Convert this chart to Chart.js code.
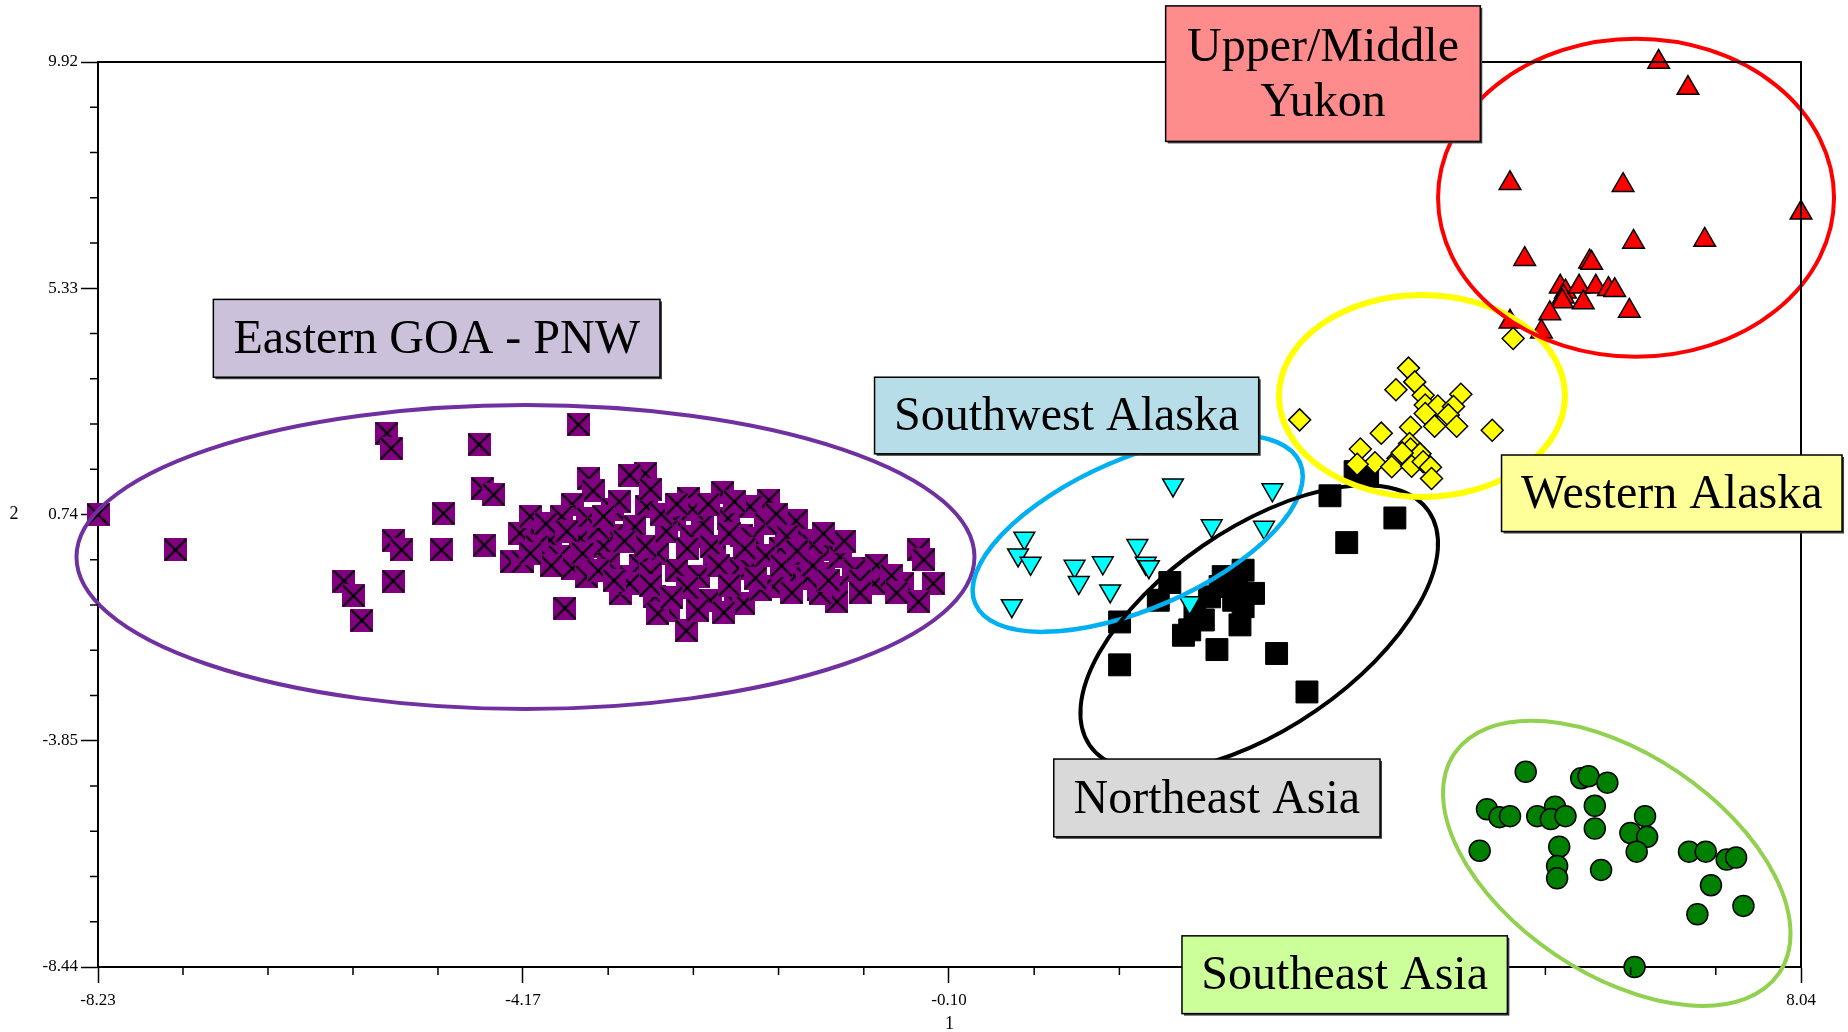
<!DOCTYPE html>
<html><head><meta charset="utf-8">
<script src="https://cdn.jsdelivr.net/npm/chart.js@4/dist/chart.umd.min.js"></script>
<style>html,body{margin:0;padding:0;background:#fff;}canvas{display:block;}</style>
</head><body>
<canvas id="c" width="1848" height="1032"></canvas>
<script>
// ---------- data ----------
const xTickLabels = ['-8.23', '-4.17', '-0.10', '3.97', '8.04'];
const yTickLabels = ['-8.44', '-3.85', '0.74', '5.33', '9.92'];
const xAxisTitle = '1';
const yAxisTitle = '2';

const eastGoaPnw = [
  [-8.23,0.74],[-7.49,0.02],[-5.47,2.39],[-5.43,2.08],[-4.59,2.16],[-4.56,1.27],[-4.45,1.14],
  [-4.93,0.76],[-5.41,0.21],[-5.33,0.02],[-4.95,0.02],[-4.54,0.12],[-5.88,-0.61],[-5.79,-0.91],
  [-5.71,-1.41],[-5.41,-0.61],[-4.28,-0.22],[-4.17,-0.22],[-4.07,0.39],[-3.99,-0.05],[-3.64,2.56],
  [-3.00,1.57],[-3.54,1.47],[-3.50,1.22],[-3.31,0.85],[-3.70,0.95],[-3.80,0.70],[-3.55,0.66],
  [-3.91,0.22],[-3.62,0.26],[-3.31,0.32],[-3.82,-0.11],[-3.70,-0.35],[-3.56,-0.52],[-3.77,-1.16],
  [-3.24,-0.86],[-3.15,-0.52],[-3.15,1.54],[-2.59,1.07],[-2.26,1.18],[-2.99,0.90],[-2.72,0.63],
  [-2.21,0.66],[-3.10,0.49],[-2.56,0.29],[-2.08,0.32],[-2.88,-0.05],[-2.34,-0.12],[-3.05,-0.29],
  [-2.70,-0.39],[-2.11,-0.35],[-3.15,-0.66],[-2.91,-0.93],[-2.78,-1.20],[-2.88,-1.27],[-2.61,-1.62],
  [-2.38,-1.00],[-2.14,-1.06],[-2.49,-0.52],[-2.37,0.09],[-1.82,1.03],[-2.00,0.90],[-1.56,0.61],
  [-1.98,0.26],[-1.71,0.05],[-1.46,0.22],[-1.24,0.02],[-1.14,-0.12],[-1.51,-0.18],[-1.01,-0.35],
  [-2.00,-0.35],[-1.78,-0.72],[-1.57,-0.52],[-1.30,-0.45],[-1.17,-0.75],[-1.17,-1.03],[-2.06,-1.06],
  [-1.35,-0.79],[-1.90,-0.79],[-0.39,0.02],[-0.34,-0.18],[-0.81,-0.45],[-0.54,-0.66],[-0.25,-0.66],
  [-0.39,-1.03],[-1.00,-0.39],[-0.79,-0.29],[-0.81,-0.66],[-1.40,0.12],[-1.33,-0.86],[-4.20,0.36],
  [-4.04,0.09],[-3.40,0.10],[-3.00,0.10],[-2.80,0.40],[-2.45,0.55],[-2.30,-0.30],[-1.85,-0.10],
  [-1.65,0.30],[-2.95,-0.45],[-3.35,-0.25],[-2.60,-0.75],[-2.20,-0.70],[-1.45,-0.55],[-1.85,0.55],
  [-2.55,0.85],[-3.25,1.00],[-2.40,0.95],[-2.85,0.75],
  [-4.10,0.70],[-3.95,0.55],[-3.75,0.40],[-3.45,0.45],[-3.20,0.20],[-3.60,-0.05],[-3.45,-0.40],
  [-3.30,-0.60],[-2.95,-0.70],[-2.75,-0.95],[-2.50,-1.20],[-2.25,-1.25],[-1.95,-0.55],[-1.70,-0.30],
  [-1.60,-0.85],[-1.40,-0.30],[-1.25,-0.60],[-0.95,-0.60],[-0.65,-0.50],[-1.10,0.20],[-1.30,0.35],
  [-1.75,0.75],[-2.15,1.00],[-2.70,0.95],[-2.95,1.25],[-3.40,0.70],[-3.90,-0.30],[-4.10,-0.05],
  [-2.05,0.05],[-2.60,0.05],[-2.20,0.35],[-1.55,0.00],[-0.60,-0.85],[-0.95,-0.85]
];
const southwestAlaska = [
  [2.04,1.34],[2.99,1.24],[2.41,0.51],[2.91,0.48],[0.62,0.26],[0.56,-0.08],[0.68,-0.25],[1.70,0.11],
  [1.78,-0.25],[1.81,-0.32],[1.10,-0.31],[1.37,-0.24],[1.14,-0.64],[1.44,-0.81],[0.50,-1.11],[2.20,-1.05]
];
const northeastAsia = [
  [3.54,1.12],[4.16,0.67],[3.70,0.17],[3.78,1.61],[3.90,1.52],[2.01,-0.64],[1.90,-1.00],[1.53,-1.44],
  [1.53,-2.31],[2.14,-1.71],[2.25,-1.20],[2.46,-2.00],[2.71,-0.39],[2.49,-0.72],[2.81,-0.86],[2.68,-1.50],
  [2.62,-1.00],[2.33,-1.40],[3.03,-2.08],[3.32,-2.86],[2.52,-0.52],[2.71,-1.13],[2.39,-0.93],[2.65,-0.72],
  [2.20,-1.60]
];
const westernAlaska = [
  [3.25,2.66],[5.29,4.31],[4.29,3.71],[4.35,3.43],[4.17,3.27],[4.43,3.16],[4.79,3.18],[4.45,2.96],
  [4.57,2.94],[4.72,2.93],[4.45,2.79],[4.67,2.76],[4.54,2.53],[4.75,2.53],[5.09,2.45],[4.03,2.39],
  [4.31,2.51],[3.83,2.07],[4.30,2.18],[4.31,2.07],[4.40,1.97],[3.97,1.79],[3.80,1.76],[4.19,1.88],
  [4.13,1.71],[4.32,1.72],[4.43,1.81],[4.50,1.70],[4.51,1.47],[4.23,1.99]
];
const upperMiddleYukon = [
  [6.68,9.92],[6.96,9.39],[5.26,7.46],[6.34,7.42],[8.04,6.86],[6.44,6.27],[7.12,6.31],[5.40,5.92],
  [6.02,5.87],[6.04,5.84],[5.74,5.36],[5.79,5.26],[5.77,5.16],[5.76,5.06],[5.92,5.36],[6.08,5.36],
  [6.20,5.31],[6.26,5.29],[5.96,5.04],[6.40,4.87],[5.64,4.82],[5.56,4.45],[5.26,4.65]
];
const southeastAsia = [
  [5.41,-4.48],[5.94,-4.61],[6.01,-4.57],[6.19,-4.70],[5.04,-5.24],[5.16,-5.40],[5.26,-5.38],[5.52,-5.38],
  [5.69,-5.19],[5.65,-5.44],[5.79,-5.38],[6.07,-5.17],[6.07,-5.63],[6.55,-5.38],[6.41,-5.72],[6.57,-5.80],
  [6.47,-6.10],[4.97,-6.08],[5.73,-6.00],[5.71,-6.39],[5.71,-6.64],[6.13,-6.47],[6.97,-6.10],[7.13,-6.10],
  [7.33,-6.26],[7.42,-6.22],[7.18,-6.78],[7.49,-7.20],[7.05,-7.37],[6.45,-8.44]
];

// group annotations (ellipse centre in data units, radii in px, rotation in deg)
const groupEllipses = [
  {cx:-4.146, cy:-0.123, a:449, b:152, rot:0,     color:'#7030A0', width:4},
  {cx: 1.703, cy: 0.358, a:177, b:75,  rot:-23.5, color:'#00B0F0', width:4.5},
  {cx: 2.864, cy:-1.569, a:206, b:100, rot:-34.6, color:'#000000', width:4},
  {cx: 4.419, cy: 3.144, a:143, b:101, rot:0,     color:'#FFFF00', width:6},
  {cx: 6.464, cy: 7.165, a:198, b:159, rot:0,     color:'#FF0000', width:4},
  {cx: 6.28,  cy:-6.337, a:196, b:110, rot:34,    color:'#92D050', width:4}
];
// label boxes (corners in data units)
const groupBoxes = [
  {x0:-7.128, x1:-2.861, y0:5.104,  y1:3.525,  fill:'#CCC1DA', lines:['Eastern GOA - PNW']},
  {x0:-0.811, x1: 2.859, y0:3.525,  y1:1.971,  fill:'#B7DEE8', lines:['Southwest Alaska']},
  {x0: 5.179, x1: 8.432, y0:1.947,  y1:0.395,  fill:'#FFFF99', lines:['Western Alaska']},
  {x0: 0.901, x1: 4.018, y0:-4.221, y1:-5.799, fill:'#D9D9D9', lines:['Northeast Asia']},
  {x0: 2.126, x1: 5.235, y0:-7.808, y1:-9.386, fill:'#CCFF99', lines:['Southeast Asia']},
  {x0: 1.970, x1: 4.976, y0:11.058, y1:8.309,  fill:'#FF8C8C', lines:['Upper/Middle','Yukon']}
];

// ---------- chart ----------
const SERIF = '"Liberation Serif","Times New Roman",serif';
const xMajor = xTickLabels.map(Number);
const yMajor = yTickLabels.map(Number);
const pts = arr => arr.map(([x, y]) => ({x, y}));

function xSquare(size) {
  const c = document.createElement('canvas');
  c.width = c.height = size;
  const g = c.getContext('2d');
  g.fillStyle = '#800080';
  g.fillRect(0, 0, size, size);
  g.strokeStyle = '#000';
  g.lineWidth = 2;
  g.beginPath();
  g.moveTo(1, 1); g.lineTo(size - 1, size - 1);
  g.moveTo(size - 1, 1); g.lineTo(1, size - 1);
  g.stroke();
  return c;
}

const overlay = {
  id: 'overlay',
  afterDatasetsDraw(chart) {
    const {ctx, scales: {x, y}} = chart;
    ctx.save();
    for (const e of groupEllipses) {
      ctx.beginPath();
      ctx.ellipse(x.getPixelForValue(e.cx), y.getPixelForValue(e.cy), e.a, e.b, e.rot * Math.PI / 180, 0, 2 * Math.PI);
      ctx.strokeStyle = e.color;
      ctx.lineWidth = e.width;
      ctx.stroke();
    }
    ctx.restore();
  },
  afterDraw(chart) {
    const {ctx, chartArea: ca, scales: {x, y}} = chart;
    ctx.save();
    ctx.strokeStyle = '#000';
    ctx.lineWidth = 2;
    ctx.beginPath();
    ctx.moveTo(ca.left, ca.top); ctx.lineTo(ca.right, ca.top); ctx.lineTo(ca.right, ca.bottom);
    ctx.stroke();
    ctx.lineWidth = 1.5;
    ctx.beginPath();
    for (let i = 0; i < xMajor.length - 1; i++) {
      for (let j = 1; j < 5; j++) {
        const px = x.getPixelForValue(xMajor[i] + (xMajor[i + 1] - xMajor[i]) * j / 5);
        ctx.moveTo(px, ca.bottom); ctx.lineTo(px, ca.bottom + 8);
      }
    }
    for (let i = 0; i < yMajor.length - 1; i++) {
      for (let j = 1; j < 5; j++) {
        const py = y.getPixelForValue(yMajor[i] + (yMajor[i + 1] - yMajor[i]) * j / 5);
        ctx.moveTo(ca.left - 8, py); ctx.lineTo(ca.left, py);
      }
    }
    ctx.stroke();
    ctx.fillStyle = '#000';
    ctx.font = '18px ' + SERIF;
    ctx.textAlign = 'center';
    ctx.textBaseline = 'middle';
    ctx.fillText(xAxisTitle, (ca.left + ca.right) / 2, 1024);
    ctx.fillText(yAxisTitle, 14, (ca.top + ca.bottom) / 2);
    for (const b of groupBoxes) {
      const l = x.getPixelForValue(b.x0), r = x.getPixelForValue(b.x1);
      const t = y.getPixelForValue(b.y0), bt = y.getPixelForValue(b.y1);
      ctx.fillStyle = '#404040';
      ctx.fillRect(l + 2, t + 2, r - l, bt - t);
      ctx.fillStyle = b.fill;
      ctx.fillRect(l, t, r - l, bt - t);
      ctx.strokeStyle = '#000';
      ctx.lineWidth = 1.5;
      ctx.strokeRect(l, t, r - l, bt - t);
      ctx.fillStyle = '#000';
      ctx.font = '48px ' + SERIF;
      const cx = (l + r) / 2, cy = (t + bt) / 2, lh = 55;
      b.lines.forEach((s, k) => {
        ctx.fillText(s, cx, cy + (k - (b.lines.length - 1) / 2) * lh + 2);
      });
    }
    ctx.restore();
  }
};

new Chart(document.getElementById('c'), {
  type: 'scatter',
  data: {
    datasets: [
      {label:'Western Alaska', data: pts(westernAlaska), pointStyle:'rectRot', pointRadius:11,
       backgroundColor:'#FFFF00', borderColor:'#000', borderWidth:1.5, order:1, clip:false},
      {label:'Southwest Alaska', data: pts(southwestAlaska), pointStyle:'triangle', rotation:180, pointRadius:12,
       backgroundColor:'#00FFFF', borderColor:'#000', borderWidth:1.5, order:2, clip:false},
      {label:'Upper/Middle Yukon', data: pts(upperMiddleYukon), pointStyle:'triangle', pointRadius:12.5,
       backgroundColor:'#FF0000', borderColor:'#000', borderWidth:1.5, order:3, clip:false},
      {label:'Northeast Asia', data: pts(northeastAsia), pointStyle:'rect', pointRadius:15.5,
       backgroundColor:'#000', borderColor:'#000', borderWidth:1, order:4, clip:false},
      {label:'Southeast Asia', data: pts(southeastAsia), pointStyle:'circle', pointRadius:10.5,
       backgroundColor:'#008000', borderColor:'#000', borderWidth:1.5, order:5, clip:false},
      {label:'Eastern GOA - PNW', data: pts(eastGoaPnw), pointStyle: xSquare(23), pointRadius:11,
       backgroundColor:'#800080', borderColor:'#000', borderWidth:0, order:6, clip:false}
    ]
  },
  options: {
    responsive: false,
    devicePixelRatio: 1,
    animation: false,
    events: [],
    layout: {padding: {top: 62, right: 47, left: 0, bottom: 0}},
    plugins: {legend: {display: false}, tooltip: {enabled: false}, title: {display: false}},
    scales: {
      x: {
        type: 'linear', min: xMajor[0], max: xMajor[xMajor.length - 1],
        afterBuildTicks: s => { s.ticks = xMajor.map(v => ({value: v})); },
        afterFit: s => { s.height = 65; },
        ticks: {autoSkip: false, maxRotation: 0, padding: 7, color: '#000',
                font: {family: SERIF, size: 17}, callback: (v, i) => xTickLabels[i]},
        grid: {drawOnChartArea: false, drawTicks: true, tickLength: 16, tickColor: '#000', tickWidth: 1.5},
        border: {display: true, color: '#000', width: 2}
      },
      y: {
        type: 'linear', min: yMajor[0], max: yMajor[yMajor.length - 1],
        afterBuildTicks: s => { s.ticks = yMajor.map(v => ({value: v})); },
        afterFit: s => { s.width = 98; },
        ticks: {autoSkip: false, padding: 3, color: '#000',
                font: {family: SERIF, size: 17}, callback: (v, i) => yTickLabels[i]},
        grid: {drawOnChartArea: false, drawTicks: true, tickLength: 17, tickColor: '#000', tickWidth: 1.5},
        border: {display: true, color: '#000', width: 2}
      }
    }
  },
  plugins: [overlay]
});
</script>
</body></html>
